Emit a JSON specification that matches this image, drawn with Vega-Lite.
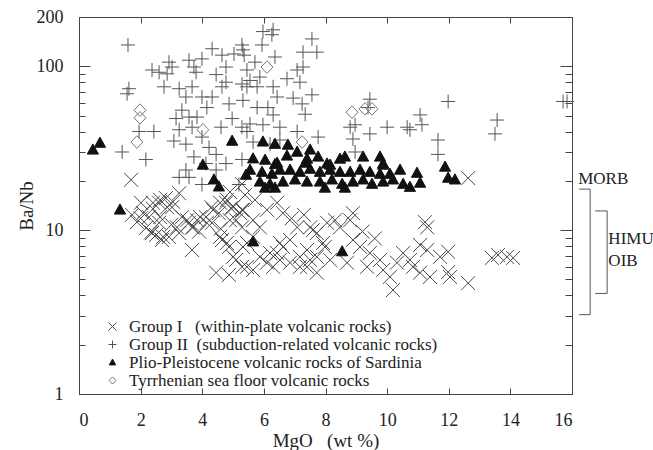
{
  "$schema": "https://vega.github.io/schema/vega-lite/v6.json",
  "width": 493,
  "height": 377,
  "autosize": {"type": "none"},
  "padding": {"left": 79, "top": 17, "right": 81, "bottom": 56},
  "background": "white",
  "config": {
    "view": {"stroke": "#444", "strokeWidth": 1},
    "font": "Liberation Serif",
    "axis": {
      "labelFont": "Liberation Serif", "labelFontSize": 18, "labelColor": "#222",
      "titleFont": "Liberation Serif", "titleFontSize": 19, "titleFontWeight": "normal", "titleColor": "#222",
      "tickColor": "#444", "domain": false, "grid": false
    },
    "legend": {
      "labelFont": "Liberation Serif", "labelFontSize": 17, "labelColor": "#222", "labelLimit": 600
    }
  },
  "datasets": {
    "pts": [
      {"mgo":1.59,"banb":135,"group":"II"},{"mgo":4.32,"banb":128,"group":"II"},{"mgo":5.29,"banb":135,"group":"II"},{"mgo":5.36,"banb":117,"group":"II"},{"mgo":2.92,"banb":106,"group":"II"},{"mgo":3.02,"banb":99,"group":"II"},{"mgo":2.37,"banb":95,"group":"II"},{"mgo":2.6,"banb":92,"group":"II"},{"mgo":2.86,"banb":90,"group":"II"},{"mgo":3.57,"banb":109,"group":"II"},{"mgo":3.73,"banb":99,"group":"II"},{"mgo":3.8,"banb":92,"group":"II"},{"mgo":3.99,"banb":111,"group":"II"},{"mgo":4.64,"banb":117,"group":"II"},{"mgo":5.03,"banb":119,"group":"II"},{"mgo":4.77,"banb":99,"group":"II"},{"mgo":4.45,"banb":89,"group":"II"},{"mgo":4.77,"banb":80,"group":"II"},{"mgo":5.29,"banb":78,"group":"II"},{"mgo":2.76,"banb":75,"group":"II"},{"mgo":3.25,"banb":73,"group":"II"},{"mgo":3.67,"banb":75,"group":"II"},{"mgo":3.47,"banb":65,"group":"II"},{"mgo":3.99,"banb":65,"group":"II"},{"mgo":4.32,"banb":65,"group":"II"},{"mgo":4.64,"banb":75,"group":"II"},{"mgo":4.87,"banb":59,"group":"II"},{"mgo":4.15,"banb":56,"group":"II"},{"mgo":1.62,"banb":73,"group":"II"},{"mgo":1.56,"banb":68,"group":"II"},{"mgo":3.15,"banb":48,"group":"II"},{"mgo":3.34,"banb":54,"group":"II"},{"mgo":3.57,"banb":49,"group":"II"},{"mgo":3.83,"banb":49,"group":"II"},{"mgo":3.67,"banb":42.5,"group":"II"},{"mgo":3.25,"banb":41,"group":"II"},{"mgo":4.61,"banb":42.5,"group":"II"},{"mgo":4.97,"banb":48,"group":"II"},{"mgo":5.29,"banb":42.5,"group":"II"},{"mgo":2.43,"banb":40,"group":"II"},{"mgo":1.95,"banb":40,"group":"II"},{"mgo":3.08,"banb":35,"group":"II"},{"mgo":3.47,"banb":33.5,"group":"II"},{"mgo":3.99,"banb":37,"group":"II"},{"mgo":4.22,"banb":32,"group":"II"},{"mgo":4.45,"banb":29,"group":"II"},{"mgo":1.4,"banb":30,"group":"II"},{"mgo":2.17,"banb":27,"group":"II"},{"mgo":3.73,"banb":28,"group":"II"},{"mgo":4.12,"banb":25.5,"group":"II"},{"mgo":3.47,"banb":23.3,"group":"II"},{"mgo":3.25,"banb":21,"group":"II"},{"mgo":4.77,"banb":25.5,"group":"II"},{"mgo":5.29,"banb":27,"group":"II"},{"mgo":5.19,"banb":19,"group":"II"},{"mgo":3.99,"banb":19,"group":"II"},{"mgo":3.57,"banb":21,"group":"II"},{"mgo":4.45,"banb":23.3,"group":"II"},
      {"mgo":5.97,"banb":163,"group":"II"},{"mgo":6.3,"banb":167,"group":"II"},{"mgo":6.26,"banb":156,"group":"II"},{"mgo":7.56,"banb":147,"group":"II"},{"mgo":5.94,"banb":135,"group":"II"},{"mgo":5.32,"banb":126,"group":"II"},{"mgo":7.27,"banb":122,"group":"II"},{"mgo":7.72,"banb":122,"group":"II"},{"mgo":6.36,"banb":114,"group":"II"},{"mgo":5.71,"banb":106,"group":"II"},{"mgo":5.45,"banb":95,"group":"II"},{"mgo":7.08,"banb":95,"group":"II"},{"mgo":7.27,"banb":99,"group":"II"},{"mgo":6.75,"banb":84,"group":"II"},{"mgo":7.17,"banb":80,"group":"II"},{"mgo":5.55,"banb":82,"group":"II"},{"mgo":5.87,"banb":86,"group":"II"},{"mgo":5.45,"banb":75,"group":"II"},{"mgo":5.78,"banb":75,"group":"II"},{"mgo":6.3,"banb":75,"group":"II"},{"mgo":6.43,"banb":65,"group":"II"},{"mgo":7.56,"banb":67,"group":"II"},{"mgo":6.95,"banb":64,"group":"II"},{"mgo":7.24,"banb":59,"group":"II"},{"mgo":5.32,"banb":62,"group":"II"},{"mgo":5.78,"banb":56,"group":"II"},{"mgo":6.13,"banb":56,"group":"II"},{"mgo":7.34,"banb":51,"group":"II"},{"mgo":6.3,"banb":50.5,"group":"II"},{"mgo":5.55,"banb":44.5,"group":"II"},{"mgo":5.97,"banb":44,"group":"II"},{"mgo":6.52,"banb":42.5,"group":"II"},{"mgo":5.45,"banb":40,"group":"II"},{"mgo":7.08,"banb":40,"group":"II"},{"mgo":7.76,"banb":37,"group":"II"},{"mgo":5.65,"banb":34.5,"group":"II"},{"mgo":6.2,"banb":33.5,"group":"II"},{"mgo":6.52,"banb":35.5,"group":"II"},
      {"mgo":9.44,"banb":63,"group":"II"},{"mgo":9.38,"banb":56,"group":"II"},{"mgo":8.96,"banb":44,"group":"II"},{"mgo":8.8,"banb":42.5,"group":"II"},{"mgo":10.0,"banb":42.5,"group":"II"},{"mgo":9.44,"banb":38.7,"group":"II"},{"mgo":8.89,"banb":36,"group":"II"},{"mgo":8.96,"banb":30,"group":"II"},{"mgo":10.65,"banb":42.5,"group":"II"},{"mgo":11.98,"banb":61,"group":"II"},{"mgo":11.07,"banb":50.5,"group":"II"},{"mgo":11.13,"banb":44,"group":"II"},{"mgo":10.74,"banb":41,"group":"II"},{"mgo":11.65,"banb":35.5,"group":"II"},{"mgo":11.65,"banb":29,"group":"II"},{"mgo":13.57,"banb":47,"group":"II"},{"mgo":13.5,"banb":38.7,"group":"II"},{"mgo":15.84,"banb":61,"group":"II"},{"mgo":15.71,"banb":61,"group":"II"},
      {"mgo":1.69,"banb":20.3,"group":"I"},{"mgo":2.01,"banb":14.7,"group":"I"},{"mgo":1.72,"banb":12.4,"group":"I"},{"mgo":1.88,"banb":11.2,"group":"I"},{"mgo":2.17,"banb":10.3,"group":"I"},{"mgo":2.5,"banb":9.35,"group":"I"},{"mgo":2.69,"banb":8.71,"group":"I"},{"mgo":2.27,"banb":12.0,"group":"I"},{"mgo":2.6,"banb":14.7,"group":"I"},{"mgo":2.82,"banb":15.7,"group":"I"},{"mgo":3.02,"banb":13.8,"group":"I"},{"mgo":3.25,"banb":16.8,"group":"I"},{"mgo":3.34,"banb":12.0,"group":"I"},{"mgo":3.57,"banb":11.1,"group":"I"},{"mgo":3.67,"banb":10.4,"group":"I"},{"mgo":3.83,"banb":11.5,"group":"I"},{"mgo":4.12,"banb":12.0,"group":"I"},{"mgo":4.32,"banb":11.1,"group":"I"},{"mgo":4.54,"banb":12.7,"group":"I"},{"mgo":4.77,"banb":14.7,"group":"I"},{"mgo":4.93,"banb":13.6,"group":"I"},{"mgo":5.1,"banb":11.5,"group":"I"},{"mgo":5.29,"banb":13.3,"group":"I"},{"mgo":3.25,"banb":9.6,"group":"I"},{"mgo":2.92,"banb":9.1,"group":"I"},{"mgo":3.67,"banb":7.57,"group":"I"},{"mgo":4.64,"banb":8.71,"group":"I"},{"mgo":4.87,"banb":7.9,"group":"I"},{"mgo":5.1,"banb":6.58,"group":"I"},{"mgo":4.45,"banb":5.5,"group":"I"},{"mgo":4.87,"banb":5.33,"group":"I"},{"mgo":5.29,"banb":5.97,"group":"I"},{"mgo":5.29,"banb":10.4,"group":"I"},{"mgo":2.6,"banb":11.1,"group":"I"},{"mgo":2.34,"banb":9.7,"group":"I"},{"mgo":5.65,"banb":5.71,"group":"I"},{"mgo":6.1,"banb":6.33,"group":"I"},{"mgo":6.43,"banb":7.25,"group":"I"},{"mgo":6.62,"banb":7.9,"group":"I"},{"mgo":6.85,"banb":8.71,"group":"I"},{"mgo":7.17,"banb":5.97,"group":"I"},{"mgo":7.5,"banb":6.58,"group":"I"},{"mgo":7.72,"banb":5.5,"group":"I"},{"mgo":7.59,"banb":10.0,"group":"I"},{"mgo":7.98,"banb":7.9,"group":"I"},{"mgo":5.32,"banb":13.3,"group":"I"},{"mgo":5.65,"banb":11.5,"group":"I"},{"mgo":5.87,"banb":10.4,"group":"I"},{"mgo":6.1,"banb":13.3,"group":"I"},{"mgo":6.43,"banb":14.7,"group":"I"},{"mgo":6.62,"banb":12.7,"group":"I"},{"mgo":5.45,"banb":8.35,"group":"I"},{"mgo":5.87,"banb":6.87,"group":"I"},{"mgo":6.2,"banb":7.25,"group":"I"},{"mgo":6.52,"banb":6.58,"group":"I"},{"mgo":6.85,"banb":6.33,"group":"I"},{"mgo":7.17,"banb":6.87,"group":"I"},{"mgo":7.4,"banb":7.57,"group":"I"},{"mgo":7.5,"banb":10.4,"group":"I"},{"mgo":7.72,"banb":9.6,"group":"I"},{"mgo":7.92,"banb":8.35,"group":"I"},{"mgo":8.05,"banb":11.1,"group":"I"},{"mgo":8.31,"banb":11.5,"group":"I"},{"mgo":8.47,"banb":10.4,"group":"I"},{"mgo":8.8,"banb":11.5,"group":"I"},{"mgo":8.89,"banb":12.7,"group":"I"},{"mgo":8.89,"banb":8.71,"group":"I"},{"mgo":9.12,"banb":7.9,"group":"I"},{"mgo":9.44,"banb":7.25,"group":"I"},{"mgo":9.77,"banb":6.58,"group":"I"},{"mgo":9.87,"banb":5.71,"group":"I"},{"mgo":10.09,"banb":5.18,"group":"I"},{"mgo":10.32,"banb":6.33,"group":"I"},{"mgo":10.52,"banb":7.25,"group":"I"},{"mgo":10.19,"banb":4.31,"group":"I"},{"mgo":6.52,"banb":8.35,"group":"I"},{"mgo":7.08,"banb":10.4,"group":"I"},{"mgo":7.72,"banb":6.87,"group":"I"},{"mgo":8.15,"banb":6.58,"group":"I"},{"mgo":8.7,"banb":6.33,"group":"I"},{"mgo":9.35,"banb":5.97,"group":"I"},{"mgo":6.3,"banb":5.97,"group":"I"},{"mgo":7.4,"banb":5.97,"group":"I"},{"mgo":11.23,"banb":11.2,"group":"I"},{"mgo":11.3,"banb":10.4,"group":"I"},{"mgo":10.74,"banb":6.58,"group":"I"},{"mgo":11.07,"banb":8.12,"group":"I"},{"mgo":11.3,"banb":7.57,"group":"I"},{"mgo":10.84,"banb":5.97,"group":"I"},{"mgo":11.07,"banb":5.5,"group":"I"},{"mgo":11.39,"banb":5.18,"group":"I"},{"mgo":11.72,"banb":6.87,"group":"I"},{"mgo":11.98,"banb":7.38,"group":"I"},{"mgo":11.98,"banb":5.55,"group":"I"},{"mgo":12.04,"banb":5.18,"group":"I"},{"mgo":12.63,"banb":4.75,"group":"I"},{"mgo":13.4,"banb":6.77,"group":"I"},{"mgo":13.6,"banb":7.06,"group":"I"},{"mgo":13.89,"banb":6.87,"group":"I"},{"mgo":14.09,"banb":6.77,"group":"I"},{"mgo":12.63,"banb":20.8,"group":"I"},{"mgo":5.29,"banb":19.1,"group":"I"},{"mgo":5.39,"banb":16.4,"group":"I"},{"mgo":5.71,"banb":15.3,"group":"I"},{"mgo":4.9,"banb":17.1,"group":"I"},{"mgo":2.0,"banb":11.8,"group":"I"},{"mgo":2.4,"banb":13.5,"group":"I"},{"mgo":3.0,"banb":10.8,"group":"I"},{"mgo":3.9,"banb":9.8,"group":"I"},{"mgo":4.3,"banb":13.8,"group":"I"},{"mgo":4.6,"banb":10.2,"group":"I"},{"mgo":6.9,"banb":11.8,"group":"I"},{"mgo":7.3,"banb":12.4,"group":"I"},{"mgo":9.2,"banb":9.8,"group":"I"},{"mgo":9.6,"banb":8.9,"group":"I"},
      {"mgo":2.08,"banb":12.7,"group":"I"},{"mgo":2.4,"banb":14.7,"group":"I"},{"mgo":2.63,"banb":15.3,"group":"I"},{"mgo":2.86,"banb":13.8,"group":"I"},{"mgo":3.05,"banb":14.9,"group":"I"},{"mgo":2.63,"banb":12.0,"group":"I"},{"mgo":2.37,"banb":9.6,"group":"I"},{"mgo":2.73,"banb":9.1,"group":"I"},{"mgo":3.18,"banb":10.4,"group":"I"},{"mgo":3.51,"banb":11.5,"group":"I"},{"mgo":3.7,"banb":10.4,"group":"I"},{"mgo":3.93,"banb":12.0,"group":"I"},{"mgo":4.15,"banb":11.1,"group":"I"},{"mgo":4.35,"banb":13.3,"group":"I"},{"mgo":4.58,"banb":14.7,"group":"I"},{"mgo":4.8,"banb":15.3,"group":"I"},{"mgo":5.0,"banb":13.8,"group":"I"},{"mgo":5.23,"banb":12.7,"group":"I"},{"mgo":4.9,"banb":11.5,"group":"I"},{"mgo":4.58,"banb":9.1,"group":"I"},{"mgo":4.8,"banb":8.35,"group":"I"},{"mgo":5.0,"banb":6.87,"group":"I"},{"mgo":5.45,"banb":5.97,"group":"I"},{"mgo":5.32,"banb":7.9,"group":"I"},{"mgo":5.65,"banb":9.1,"group":"I"},
      {"mgo":0.45,"banb":30.9,"group":"P"},{"mgo":0.68,"banb":34,"group":"P"},{"mgo":4.97,"banb":35,"group":"P"},{"mgo":4.02,"banb":25,"group":"P"},{"mgo":4.38,"banb":20.3,"group":"P"},{"mgo":4.54,"banb":18.4,"group":"P"},{"mgo":1.33,"banb":13.3,"group":"P"},{"mgo":5.42,"banb":21.7,"group":"P"},{"mgo":5.65,"banb":8.5,"group":"P"},{"mgo":8.54,"banb":7.4,"group":"P"},{"mgo":5.97,"banb":34.6,"group":"P"},{"mgo":6.36,"banb":33.5,"group":"P"},{"mgo":6.78,"banb":33.1,"group":"P"},{"mgo":7.5,"banb":30.9,"group":"P"},{"mgo":5.65,"banb":27.3,"group":"P"},{"mgo":6.04,"banb":26.8,"group":"P"},{"mgo":6.36,"banb":25.2,"group":"P"},{"mgo":6.75,"banb":28.4,"group":"P"},{"mgo":7.08,"banb":30.0,"group":"P"},{"mgo":7.4,"banb":27.2,"group":"P"},{"mgo":7.76,"banb":28.0,"group":"P"},{"mgo":8.05,"banb":25.4,"group":"P"},{"mgo":8.47,"banb":27.2,"group":"P"},{"mgo":8.63,"banb":28.0,"group":"P"},{"mgo":9.22,"banb":28.0,"group":"P"},{"mgo":9.77,"banb":28.0,"group":"P"},{"mgo":9.87,"banb":25.4,"group":"P"},{"mgo":10.42,"banb":23.3,"group":"P"},{"mgo":5.55,"banb":23.3,"group":"P"},{"mgo":5.94,"banb":22.6,"group":"P"},{"mgo":6.26,"banb":22.0,"group":"P"},{"mgo":6.52,"banb":23.3,"group":"P"},{"mgo":6.85,"banb":23.3,"group":"P"},{"mgo":7.17,"banb":22.6,"group":"P"},{"mgo":7.5,"banb":23.6,"group":"P"},{"mgo":7.82,"banb":22.6,"group":"P"},{"mgo":8.15,"banb":23.3,"group":"P"},{"mgo":8.47,"banb":22.6,"group":"P"},{"mgo":8.8,"banb":22.6,"group":"P"},{"mgo":9.12,"banb":23.3,"group":"P"},{"mgo":9.44,"banb":22.6,"group":"P"},{"mgo":9.77,"banb":22.0,"group":"P"},{"mgo":10.09,"banb":22.0,"group":"P"},{"mgo":5.87,"banb":19.7,"group":"P"},{"mgo":6.2,"banb":19.1,"group":"P"},{"mgo":6.62,"banb":19.7,"group":"P"},{"mgo":7.01,"banb":20.3,"group":"P"},{"mgo":7.4,"banb":19.7,"group":"P"},{"mgo":7.82,"banb":19.7,"group":"P"},{"mgo":8.21,"banb":20.3,"group":"P"},{"mgo":8.54,"banb":19.1,"group":"P"},{"mgo":8.89,"banb":19.7,"group":"P"},{"mgo":9.22,"banb":20.3,"group":"P"},{"mgo":9.51,"banb":19.1,"group":"P"},{"mgo":9.87,"banb":19.7,"group":"P"},{"mgo":10.19,"banb":20.3,"group":"P"},{"mgo":10.52,"banb":19.1,"group":"P"},{"mgo":6.04,"banb":18.1,"group":"P"},{"mgo":6.36,"banb":18.1,"group":"P"},{"mgo":7.98,"banb":18.1,"group":"P"},{"mgo":8.63,"banb":18.1,"group":"P"},{"mgo":6.43,"banb":25.7,"group":"P"},{"mgo":7.34,"banb":25.7,"group":"P"},{"mgo":8.15,"banb":25.0,"group":"P"},{"mgo":9.87,"banb":25.0,"group":"P"},{"mgo":10.97,"banb":22.3,"group":"P"},{"mgo":10.74,"banb":18.3,"group":"P"},{"mgo":11.07,"banb":19.4,"group":"P"},{"mgo":11.88,"banb":24.3,"group":"P"},{"mgo":11.98,"banb":20.8,"group":"P"},{"mgo":12.2,"banb":20.3,"group":"P"},
      {"mgo":1.98,"banb":54,"group":"T"},{"mgo":1.98,"banb":48.5,"group":"T"},{"mgo":1.88,"banb":34.5,"group":"T"},{"mgo":4.02,"banb":41,"group":"T"},{"mgo":6.1,"banb":99,"group":"T"},{"mgo":8.86,"banb":52.5,"group":"T"},{"mgo":9.28,"banb":55,"group":"T"},{"mgo":9.51,"banb":55,"group":"T"},{"mgo":7.24,"banb":34.5,"group":"T"}
    ],
    "brackets": [
      {"mgo":16.59,"mgo2":16.59,"banb":17.8,"banb2":3.05},
      {"mgo":16.23,"mgo2":16.59,"banb":17.8,"banb2":17.8},
      {"mgo":16.23,"mgo2":16.59,"banb":3.05,"banb2":3.05},
      {"mgo":17.14,"mgo2":17.14,"banb":13.1,"banb2":4.11},
      {"mgo":16.75,"mgo2":17.14,"banb":13.1,"banb2":13.1},
      {"mgo":16.75,"mgo2":17.14,"banb":4.11,"banb2":4.11}
    ],
    "labels": [
      {"mgo":16.2,"banb":20.6,"text":"MORB"},
      {"mgo":17.18,"banb":8.81,"text":"HIMU"},
      {"mgo":17.18,"banb":6.45,"text":"OIB"}
    ]
  },
  "resolve": {"axis": {"x": "independent", "y": "independent"}},
  "layer": [
    {
      "data": {"name": "pts"},
      "mark": {"type": "point", "filled": false, "size": 196, "strokeWidth": 1, "opacity": 1},
      "encoding": {
        "x": {
          "field": "mgo", "type": "quantitative",
          "scale": {"domain": [0, 16], "nice": false, "zero": false},
          "axis": {"orient": "bottom", "values": [0,2,4,6,8,10,12,14,16], "tickSize": -6, "labelPadding": 23, "title": "MgO\u00a0\u00a0 (wt %)", "titlePadding": 2}
        },
        "y": {
          "field": "banb", "type": "quantitative",
          "scale": {"type": "log", "domain": [1, 200], "nice": false},
          "axis": {
            "orient": "left",
            "values": [1,2,3,4,5,6,7,8,9,10,20,30,40,50,60,70,80,90,100,200],
            "labelExpr": "indexof([1,10,100,200], datum.value) >= 0 ? toString(datum.value) : ''",
            "tickSize": {"condition": {"test": "indexof([1,10,100,200], datum.value) >= 0", "value": -11}, "value": -6},
            "labelPadding": 27, "title": "Ba/Nb", "titlePadding": 0
          }
        },
        "shape": {
          "field": "group", "type": "nominal",
          "scale": {"domain": ["I","II","P","T"], "range": ["M-1,-1L1,1M-1,1L1,-1", "M-1,0L1,0M0,-1L0,1", "M0,-0.85L0.8,0.6L-0.8,0.6Z", "M0,-0.9L0.85,0L0,0.9L-0.85,0Z"]},
          "legend": {
            "title": null, "orient": "none", "legendX": 25, "legendY": 301, "padding": 0,
            "symbolSize": 64, "symbolStrokeWidth": 1, "symbolOpacity": 1, "rowPadding": 0, "labelOffset": 8,
            "labelExpr": "datum.value == 'I' ? 'Group I\u00a0\u00a0 (within-plate volcanic rocks)' : datum.value == 'II' ? 'Group II\u00a0 (subduction-related volcanic rocks)' : datum.value == 'P' ? 'Plio-Pleistocene volcanic rocks of Sardinia' : 'Tyrrhenian sea floor volcanic rocks'"
          }
        },
        "stroke": {
          "field": "group", "type": "nominal",
          "scale": {"domain": ["I","II","P","T"], "range": ["#4a4a4a", "#555555", "#111111", "#777777"]},
          "legend": null
        },
        "fill": {
          "field": "group", "type": "nominal",
          "scale": {"domain": ["I","II","P","T"], "range": ["transparent", "transparent", "#111111", "transparent"]},
          "legend": null
        }
      }
    },
    {
      "data": {"name": "brackets"},
      "mark": {"type": "rule", "color": "#555", "strokeWidth": 1},
      "encoding": {
        "x": {
          "field": "mgo", "type": "quantitative",
          "scale": {"domain": [0, 16], "nice": false, "zero": false},
          "axis": {"orient": "top", "values": [0,2,4,6,8,10,12,14,16], "tickSize": -6, "labels": false, "title": null}
        },
        "x2": {"field": "mgo2"},
        "y": {
          "field": "banb", "type": "quantitative",
          "scale": {"type": "log", "domain": [1, 200], "nice": false},
          "axis": {
            "orient": "right",
            "values": [1,2,3,4,5,6,7,8,9,10,20,30,40,50,60,70,80,90,100,200],
            "tickSize": {"condition": {"test": "indexof([1,10,100,200], datum.value) >= 0", "value": -12}, "value": -7},
            "labels": false, "title": null
          }
        },
        "y2": {"field": "banb2"}
      }
    },
    {
      "data": {"name": "labels"},
      "mark": {"type": "text", "align": "left", "baseline": "middle", "font": "Liberation Serif", "fontSize": 17, "color": "#222"},
      "encoding": {
        "x": {"field": "mgo", "type": "quantitative", "scale": {"domain": [0, 16], "nice": false, "zero": false}, "axis": null},
        "y": {"field": "banb", "type": "quantitative", "scale": {"type": "log", "domain": [1, 200], "nice": false}, "axis": null},
        "text": {"field": "text"}
      }
    }
  ]
}
